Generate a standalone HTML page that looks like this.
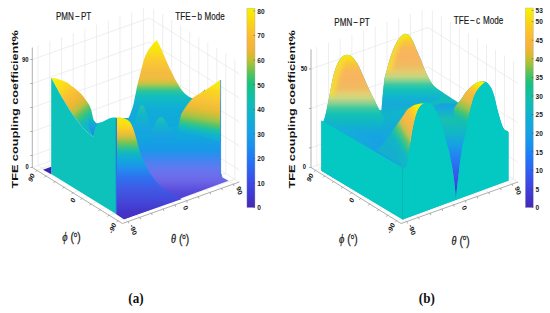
<!DOCTYPE html>
<html><head><meta charset="utf-8"><style>
html,body{margin:0;padding:0;background:#fff;width:550px;height:313px;overflow:hidden;font-family:"Liberation Sans",sans-serif;}
svg{display:block;}
</style></head><body><svg font-family="&quot;Liberation Sans&quot;, sans-serif" width="550" height="313" viewBox="0 0 550 313"><defs><linearGradient id="g1" gradientUnits="userSpaceOnUse" x1="0.0" y1="100.0" x2="0.0" y2="219.0"><stop offset="0.000" stop-color="#10b4cc"/><stop offset="0.151" stop-color="#10b0d4"/><stop offset="0.294" stop-color="#10a8dc"/><stop offset="0.420" stop-color="#1898e8"/><stop offset="0.487" stop-color="#3a88f0"/><stop offset="0.555" stop-color="#5a7cf0"/><stop offset="0.622" stop-color="#6c70ec"/><stop offset="0.689" stop-color="#6a64e6"/><stop offset="0.756" stop-color="#5a4edc"/><stop offset="0.840" stop-color="#4c3ed0"/><stop offset="1.000" stop-color="#4430c0"/></linearGradient><linearGradient id="g2" gradientUnits="userSpaceOnUse" x1="0.0" y1="40.0" x2="0.0" y2="128.0"><stop offset="0.000" stop-color="#f8f000"/><stop offset="0.114" stop-color="#f8e410"/><stop offset="0.205" stop-color="#fad028"/><stop offset="0.284" stop-color="#f8c438"/><stop offset="0.364" stop-color="#f4bc40"/><stop offset="0.432" stop-color="#f0bc40"/><stop offset="0.477" stop-color="#d8c040"/><stop offset="0.511" stop-color="#a8c650"/><stop offset="0.545" stop-color="#60c870"/><stop offset="0.580" stop-color="#30c498"/><stop offset="0.625" stop-color="#14c0b8"/><stop offset="0.682" stop-color="#10b8c8"/><stop offset="0.795" stop-color="#10acd8"/><stop offset="1.000" stop-color="#10a8dc"/></linearGradient><linearGradient id="g3" gradientUnits="userSpaceOnUse" x1="0.0" y1="104.0" x2="0.0" y2="134.0"><stop offset="0.000" stop-color="#30c6a0"/><stop offset="0.350" stop-color="#14b8c4"/><stop offset="1.000" stop-color="#18a0e6"/></linearGradient><linearGradient id="g4" gradientUnits="userSpaceOnUse" x1="0.0" y1="116.0" x2="0.0" y2="140.0"><stop offset="0.000" stop-color="#2cc4a8"/><stop offset="0.400" stop-color="#14b4cc"/><stop offset="1.000" stop-color="#1a9ae8"/></linearGradient><linearGradient id="g5" gradientUnits="userSpaceOnUse" x1="206.0" y1="84.0" x2="197.0" y2="138.0"><stop offset="0.000" stop-color="#f8e818"/><stop offset="0.120" stop-color="#fad420"/><stop offset="0.300" stop-color="#f8c438"/><stop offset="0.450" stop-color="#ecbc34"/><stop offset="0.550" stop-color="#c8c038"/><stop offset="0.640" stop-color="#98c44c"/><stop offset="0.720" stop-color="#58c468"/><stop offset="0.800" stop-color="#20c2a0"/><stop offset="0.900" stop-color="#10b4cc"/><stop offset="1.000" stop-color="#14a8dc"/></linearGradient><linearGradient id="g6" gradientUnits="userSpaceOnUse" x1="0.0" y1="117.0" x2="0.0" y2="219.0"><stop offset="0.000" stop-color="#f8e810"/><stop offset="0.059" stop-color="#fae010"/><stop offset="0.108" stop-color="#fcd020"/><stop offset="0.157" stop-color="#f0c038"/><stop offset="0.206" stop-color="#c0c040"/><stop offset="0.255" stop-color="#70c458"/><stop offset="0.304" stop-color="#30c290"/><stop offset="0.353" stop-color="#10b8c0"/><stop offset="0.422" stop-color="#10a8dc"/><stop offset="0.500" stop-color="#2090ec"/><stop offset="0.598" stop-color="#3070f0"/><stop offset="0.716" stop-color="#4058e4"/><stop offset="0.843" stop-color="#4444d8"/><stop offset="0.931" stop-color="#4434c8"/><stop offset="1.000" stop-color="#4430c0"/></linearGradient><linearGradient id="g7" gradientUnits="userSpaceOnUse" x1="56.0" y1="80.0" x2="90.0" y2="122.0"><stop offset="0.000" stop-color="#f8ec08"/><stop offset="0.220" stop-color="#fcd420"/><stop offset="0.400" stop-color="#f8be38"/><stop offset="0.560" stop-color="#eab834"/><stop offset="0.680" stop-color="#b8c040"/><stop offset="0.780" stop-color="#58c464"/><stop offset="0.880" stop-color="#20c2a0"/><stop offset="1.000" stop-color="#10b8c8"/></linearGradient><linearGradient id="g8" gradientUnits="userSpaceOnUse" x1="0.0" y1="118.0" x2="0.0" y2="136.0"><stop offset="0.000" stop-color="#10b8c0"/><stop offset="0.500" stop-color="#18a0e0"/><stop offset="1.000" stop-color="#2a80ee"/></linearGradient><linearGradient id="g9" gradientUnits="userSpaceOnUse" x1="0.0" y1="8.2" x2="0.0" y2="207.6"><stop offset="0.000" stop-color="#f8f200"/><stop offset="0.031" stop-color="#f9e608"/><stop offset="0.062" stop-color="#fad911"/><stop offset="0.094" stop-color="#fbcd1c"/><stop offset="0.125" stop-color="#fcc12b"/><stop offset="0.156" stop-color="#f9b934"/><stop offset="0.188" stop-color="#f5b53a"/><stop offset="0.219" stop-color="#e9b631"/><stop offset="0.250" stop-color="#cbbd2d"/><stop offset="0.281" stop-color="#a1c13b"/><stop offset="0.312" stop-color="#6ec24e"/><stop offset="0.344" stop-color="#40c266"/><stop offset="0.375" stop-color="#1cc27d"/><stop offset="0.406" stop-color="#13c190"/><stop offset="0.438" stop-color="#10c0a3"/><stop offset="0.469" stop-color="#10beb1"/><stop offset="0.500" stop-color="#10b9bf"/><stop offset="0.531" stop-color="#10b3cb"/><stop offset="0.562" stop-color="#10add6"/><stop offset="0.594" stop-color="#13a7df"/><stop offset="0.625" stop-color="#17a1e7"/><stop offset="0.656" stop-color="#1899eb"/><stop offset="0.688" stop-color="#1891ef"/><stop offset="0.719" stop-color="#1c85f4"/><stop offset="0.750" stop-color="#2079f8"/><stop offset="0.781" stop-color="#276df4"/><stop offset="0.812" stop-color="#2f61f0"/><stop offset="0.844" stop-color="#3655ec"/><stop offset="0.875" stop-color="#3c49e8"/><stop offset="0.906" stop-color="#3e40dc"/><stop offset="0.938" stop-color="#4038d0"/><stop offset="0.969" stop-color="#4230c4"/><stop offset="1.000" stop-color="#4428b8"/></linearGradient><linearGradient id="g10" gradientUnits="userSpaceOnUse" x1="0.0" y1="80.0" x2="0.0" y2="170.0"><stop offset="0.000" stop-color="#10bea8"/><stop offset="0.220" stop-color="#10bcbc"/><stop offset="0.380" stop-color="#10b4cc"/><stop offset="0.550" stop-color="#14aad8"/><stop offset="0.780" stop-color="#18a4e0"/><stop offset="1.000" stop-color="#10b4d0"/></linearGradient><linearGradient id="g11" gradientUnits="userSpaceOnUse" x1="0.0" y1="54.3" x2="0.0" y2="131.0"><stop offset="0.000" stop-color="#f8f000"/><stop offset="0.048" stop-color="#f8e010"/><stop offset="0.113" stop-color="#f8c838"/><stop offset="0.205" stop-color="#f8b858"/><stop offset="0.335" stop-color="#f8b460"/><stop offset="0.439" stop-color="#f0bc60"/><stop offset="0.505" stop-color="#e8cc70"/><stop offset="0.570" stop-color="#c8d880"/><stop offset="0.635" stop-color="#90d090"/><stop offset="0.700" stop-color="#40c8a0"/><stop offset="0.778" stop-color="#14c2b4"/><stop offset="0.883" stop-color="#10bcbc" stop-opacity="0.6"/><stop offset="1.000" stop-color="#10b8c4" stop-opacity="0"/></linearGradient><linearGradient id="g12" gradientUnits="userSpaceOnUse" x1="331.0" y1="0.0" x2="346.0" y2="0.0"><stop offset="0.000" stop-color="#f4e428"/><stop offset="0.500" stop-color="#f6dc30"/><stop offset="1.000" stop-color="#f8d040"/></linearGradient><clipPath id="cpL"><path d="M321.30,120.50 C321.30,120.50 322.47,122.78 323.20,121.70 C323.93,120.62 324.85,117.42 325.70,114.00 C326.55,110.58 327.45,105.47 328.30,101.20 C329.15,96.93 329.95,92.65 330.80,88.40 C331.65,84.15 332.47,79.40 333.40,75.70 C334.33,72.00 335.23,69.05 336.40,66.20 C337.57,63.35 339.13,60.37 340.40,58.60 C341.67,56.83 342.90,56.25 344.00,55.60 C345.10,54.95 345.97,54.70 347.00,54.70 C348.03,54.70 349.10,54.98 350.20,55.60 C351.30,56.22 352.22,56.77 353.60,58.40 C354.98,60.03 356.83,62.30 358.50,65.40 C360.17,68.50 361.90,73.17 363.60,77.00 C365.30,80.83 367.00,84.78 368.70,88.40 C370.40,92.02 372.10,95.28 373.80,98.70 C375.50,102.12 377.53,106.18 378.90,108.90 C380.27,111.62 380.98,112.98 382.00,115.00 C383.02,117.02 385.00,121.00 385.00,121.00 L380.00,128.00 L365.00,131.00 L345.00,131.00 L330.00,128.00 L321.30,120.50 Z"/></clipPath><filter id="bl2" x="-50%" y="-50%" width="200%" height="200%"><feGaussianBlur stdDeviation="2.2"/></filter><linearGradient id="g13" gradientUnits="userSpaceOnUse" x1="0.0" y1="33.6" x2="0.0" y2="114.0"><stop offset="0.000" stop-color="#f8f000"/><stop offset="0.042" stop-color="#f8e010"/><stop offset="0.104" stop-color="#f8c838"/><stop offset="0.179" stop-color="#f8b858"/><stop offset="0.303" stop-color="#f8b460"/><stop offset="0.403" stop-color="#f0bc60"/><stop offset="0.478" stop-color="#e4cc70"/><stop offset="0.540" stop-color="#c0d680"/><stop offset="0.590" stop-color="#80d090"/><stop offset="0.639" stop-color="#38c8a4"/><stop offset="0.701" stop-color="#14c2b8"/><stop offset="0.789" stop-color="#10b4d0"/><stop offset="0.888" stop-color="#18a4e0" stop-opacity="0.7"/><stop offset="1.000" stop-color="#1a9ae6" stop-opacity="0"/></linearGradient><linearGradient id="g14" gradientUnits="userSpaceOnUse" x1="388.0" y1="0.0" x2="403.0" y2="0.0"><stop offset="0.000" stop-color="#f4e428"/><stop offset="0.500" stop-color="#f6dc30"/><stop offset="1.000" stop-color="#f8d040"/></linearGradient><clipPath id="cpM"><path d="M381.50,110.00 C381.50,110.00 383.42,87.03 384.30,80.40 C385.18,73.77 385.92,73.63 386.80,70.20 C387.68,66.77 388.60,63.08 389.60,59.80 C390.60,56.52 391.65,53.38 392.80,50.50 C393.95,47.62 395.22,44.78 396.50,42.50 C397.78,40.22 399.07,38.25 400.50,36.80 C401.93,35.35 403.65,34.00 405.10,33.80 C406.55,33.60 407.95,34.48 409.20,35.60 C410.45,36.72 411.50,38.45 412.60,40.50 C413.70,42.55 414.53,44.97 415.80,47.90 C417.07,50.83 418.62,54.27 420.20,58.10 C421.78,61.93 423.58,67.05 425.30,70.90 C427.02,74.75 428.78,78.43 430.50,81.20 C432.22,83.97 433.48,85.58 435.60,87.50 C437.72,89.42 443.20,92.70 443.20,92.70 L438.00,100.00 L420.00,104.00 L400.00,110.00 L388.00,114.00 L381.50,110.00 Z"/></clipPath><linearGradient id="g15" gradientUnits="userSpaceOnUse" x1="321.0" y1="120.0" x2="402.0" y2="167.0"><stop offset="0.000" stop-color="#10b8c8"/><stop offset="0.400" stop-color="#14aadc"/><stop offset="0.800" stop-color="#1a9ce6"/><stop offset="1.000" stop-color="#1a9ae6"/></linearGradient><linearGradient id="g16" gradientUnits="userSpaceOnUse" x1="418.0" y1="108.0" x2="386.0" y2="128.0"><stop offset="0.000" stop-color="#f8f000"/><stop offset="0.150" stop-color="#fcd020"/><stop offset="0.300" stop-color="#f8bc40"/><stop offset="0.480" stop-color="#f0b848"/><stop offset="0.600" stop-color="#c8c050"/><stop offset="0.720" stop-color="#60c470"/><stop offset="0.850" stop-color="#20c2a0"/><stop offset="1.000" stop-color="#10bcbc" stop-opacity="0.6"/></linearGradient><linearGradient id="g17" gradientUnits="userSpaceOnUse" x1="0.0" y1="100.0" x2="0.0" y2="199.0"><stop offset="0.000" stop-color="#1a9ae6"/><stop offset="0.100" stop-color="#14acd8"/><stop offset="0.200" stop-color="#18c0b0"/><stop offset="0.320" stop-color="#10b8c4"/><stop offset="0.450" stop-color="#18a0e4"/><stop offset="0.580" stop-color="#2480f2"/><stop offset="0.720" stop-color="#3460ee"/><stop offset="0.860" stop-color="#4044dc"/><stop offset="1.000" stop-color="#4434c8"/></linearGradient><linearGradient id="g18" gradientUnits="userSpaceOnUse" x1="480.0" y1="84.0" x2="458.0" y2="126.0"><stop offset="0.000" stop-color="#f8f000"/><stop offset="0.120" stop-color="#fcd020"/><stop offset="0.280" stop-color="#f8b840"/><stop offset="0.450" stop-color="#e0bc40"/><stop offset="0.600" stop-color="#90c450"/><stop offset="0.720" stop-color="#40c478"/><stop offset="0.850" stop-color="#14c0a8" stop-opacity="0.8"/><stop offset="1.000" stop-color="#10b8c0" stop-opacity="0"/></linearGradient><linearGradient id="g19" gradientUnits="userSpaceOnUse" x1="0.0" y1="8.0" x2="0.0" y2="207.6"><stop offset="0.000" stop-color="#f8f200"/><stop offset="0.031" stop-color="#f9e608"/><stop offset="0.062" stop-color="#fad911"/><stop offset="0.094" stop-color="#fbcd1c"/><stop offset="0.125" stop-color="#fcc12b"/><stop offset="0.156" stop-color="#f9b934"/><stop offset="0.188" stop-color="#f5b53a"/><stop offset="0.219" stop-color="#e9b631"/><stop offset="0.250" stop-color="#cbbd2d"/><stop offset="0.281" stop-color="#a1c13b"/><stop offset="0.312" stop-color="#6ec24e"/><stop offset="0.344" stop-color="#40c266"/><stop offset="0.375" stop-color="#1cc27d"/><stop offset="0.406" stop-color="#13c190"/><stop offset="0.438" stop-color="#10c0a3"/><stop offset="0.469" stop-color="#10beb1"/><stop offset="0.500" stop-color="#10b9bf"/><stop offset="0.531" stop-color="#10b3cb"/><stop offset="0.562" stop-color="#10add6"/><stop offset="0.594" stop-color="#13a7df"/><stop offset="0.625" stop-color="#17a1e7"/><stop offset="0.656" stop-color="#1899eb"/><stop offset="0.688" stop-color="#1891ef"/><stop offset="0.719" stop-color="#1c85f4"/><stop offset="0.750" stop-color="#2079f8"/><stop offset="0.781" stop-color="#276df4"/><stop offset="0.812" stop-color="#2f61f0"/><stop offset="0.844" stop-color="#3655ec"/><stop offset="0.875" stop-color="#3c49e8"/><stop offset="0.906" stop-color="#3e40dc"/><stop offset="0.938" stop-color="#4038d0"/><stop offset="0.969" stop-color="#4230c4"/><stop offset="1.000" stop-color="#4428b8"/></linearGradient></defs><path d="M38.1,165.4 V45.4 M49.8,161.3 V41.3 M61.5,157.1 V37.1 M73.2,153.0 V33.0 M84.9,148.8 V28.8 M96.6,144.7 V24.7 M108.3,140.5 V20.5 M120.0,136.4 V16.4 M131.7,132.2 V12.2 M143.4,128.1 V8.1 M153.7,128.8 V8.8 M162.7,134.4 V14.4 M171.7,140.0 V20.0 M180.7,145.6 V25.6 M189.7,151.2 V31.2 M198.8,156.8 V36.8 M207.8,162.4 V42.4 M216.8,168.0 V48.0 M225.8,173.6 V53.6 M234.8,179.2 V59.2 M32.3,167.5 L149.2,126.0 L239.3,182.0 M32.3,155.5 L149.2,114.0 L239.3,170.0 M32.3,131.5 L149.2,90.0 L239.3,146.0 M32.3,107.5 L149.2,66.0 L239.3,122.0 M32.3,83.5 L149.2,42.0 L239.3,98.0 M32.3,59.5 L149.2,18.0 L239.3,74.0 M38.1,165.4 L128.2,221.4 M36.8,170.3 L153.7,128.8 M49.8,161.3 L139.9,217.3 M45.8,175.9 L162.7,134.4 M61.5,157.1 L151.6,213.1 M54.8,181.5 L171.7,140.0 M73.2,153.0 L163.3,209.0 M63.8,187.1 L180.7,145.6 M84.9,148.8 L175.0,204.8 M72.8,192.7 L189.7,151.2 M96.6,144.7 L186.7,200.7 M81.9,198.3 L198.8,156.8 M108.3,140.5 L198.4,196.5 M90.9,203.9 L207.8,162.4 M120.0,136.4 L210.1,192.4 M99.9,209.5 L216.8,168.0 M131.7,132.2 L221.8,188.2 M108.9,215.1 L225.8,173.6 M143.4,128.1 L233.5,184.1 M117.9,220.7 L234.8,179.2" stroke="#e2e2e2" stroke-width="0.6" fill="none"/><path d="M32.3,167.5 V47.5 M32.3,167.5 L122.4,223.5 L239.3,182.0 M32.3,167.5 h-2 M32.3,155.5 h-2 M32.3,131.5 h-2 M32.3,107.5 h-2 M32.3,83.5 h-2 M32.3,59.5 h-2 M36.8,170.3 l-1.3,1.6 M45.8,175.9 l-1.3,1.6 M54.8,181.5 l-1.3,1.6 M63.8,187.1 l-1.3,1.6 M72.8,192.7 l-1.3,1.6 M81.9,198.3 l-1.3,1.6 M90.9,203.9 l-1.3,1.6 M99.9,209.5 l-1.3,1.6 M108.9,215.1 l-1.3,1.6 M117.9,220.7 l-1.3,1.6 M128.2,221.4 l0.6,2.0 M139.9,217.3 l0.6,2.0 M151.6,213.1 l0.6,2.0 M163.3,209.0 l0.6,2.0 M175.0,204.8 l0.6,2.0 M186.7,200.7 l0.6,2.0 M198.4,196.5 l0.6,2.0 M210.1,192.4 l0.6,2.0 M221.8,188.2 l0.6,2.0 M233.5,184.1 l0.6,2.0" stroke="#8c8c8c" stroke-width="0.7" fill="none"/><path d="M116.0,118.0 L131.0,118.0 L150.0,110.0 L200.0,108.0 L220.5,100.0 L220.8,172.0 L222.5,177.5 L228.5,180.8 L124.0,219.2 L116.0,214.0 Z" fill="url(#g1)"/><path d="M127.20,121.00 C127.20,121.00 128.97,117.35 129.70,115.60 C130.43,113.85 130.97,112.40 131.60,110.50 C132.23,108.60 132.97,106.32 133.50,104.20 C134.03,102.08 134.37,99.93 134.80,97.80 C135.23,95.67 135.65,93.62 136.10,91.40 C136.55,89.18 136.80,87.48 137.50,84.50 C138.20,81.52 139.40,77.05 140.30,73.50 C141.20,69.95 142.02,66.25 142.90,63.20 C143.78,60.15 144.52,57.63 145.60,55.20 C146.68,52.77 148.10,50.57 149.40,48.60 C150.70,46.63 152.15,44.80 153.40,43.40 C154.65,42.00 156.90,40.20 156.90,40.20 C156.90,40.20 159.52,45.13 160.80,47.90 C162.08,50.67 163.32,53.82 164.60,56.80 C165.88,59.78 167.22,63.02 168.50,65.80 C169.78,68.58 171.03,70.95 172.30,73.50 C173.57,76.05 174.82,78.77 176.10,81.10 C177.38,83.43 178.72,85.58 180.00,87.50 C181.28,89.42 182.32,91.05 183.80,92.60 C185.28,94.15 187.42,95.85 188.90,96.80 C190.38,97.75 191.42,98.20 192.70,98.30 C193.98,98.40 195.10,98.35 196.60,97.40 C198.10,96.45 200.30,93.95 201.70,92.60 C203.10,91.25 205.00,89.30 205.00,89.30 L205.00,115.00 L190.00,125.00 L160.00,128.00 L140.00,128.00 L127.20,121.00 Z" fill="url(#g2)"/><path d="M132,134 C136,118 139,105 141.8,105 C145,105 148,118 153,134 Z" fill="url(#g3)" opacity="0.85"/><path d="M150,140 C154,126 157,117 161,117 C165,117 169,128 176,140 Z" fill="url(#g4)" opacity="0.85"/><path d="M181.20,114.20 C181.20,114.20 184.13,109.12 186.00,106.50 C187.87,103.88 190.40,100.50 192.40,98.50 C194.40,96.50 196.07,95.75 198.00,94.50 C199.93,93.25 202.00,92.25 204.00,91.00 C206.00,89.75 208.08,88.28 210.00,87.00 C211.92,85.72 213.75,84.55 215.50,83.30 C217.25,82.05 220.50,79.50 220.50,79.50 L220.60,142.00 L205.00,137.00 L190.00,134.00 L177.50,131.00 C177.50,131.00 178.68,124.80 179.30,122.00 C179.92,119.20 181.20,114.20 181.20,114.20 Z" fill="url(#g5)"/><path d="M220.6,80 V176" stroke="#2080f0" stroke-width="0.9" opacity="0.8"/><path d="M116.40,117.80 C116.40,117.80 117.42,117.27 118.50,117.30 C119.58,117.33 121.45,117.58 122.90,118.00 C124.35,118.42 125.97,119.05 127.20,119.80 C128.43,120.55 129.37,121.22 130.30,122.50 C131.23,123.78 132.05,125.68 132.80,127.50 C133.55,129.32 134.13,131.23 134.80,133.40 C135.47,135.57 136.13,138.07 136.80,140.50 C137.47,142.93 138.00,145.33 138.80,148.00 C139.60,150.67 140.37,153.47 141.60,156.50 C142.83,159.53 144.05,162.37 146.20,166.20 C148.35,170.03 151.45,175.62 154.50,179.50 C157.55,183.38 161.03,186.85 164.50,189.50 C167.97,192.15 172.38,193.82 175.30,195.40 C178.22,196.98 182.00,199.00 182.00,199.00 L124.00,219.20 L116.40,214.00 L116.40,117.80 Z" fill="url(#g6)"/><path d="M51.20,77.80 C51.20,77.80 55.03,78.32 57.00,78.80 C58.97,79.28 61.25,80.03 63.00,80.70 C64.75,81.37 66.07,81.93 67.50,82.80 C68.93,83.67 70.18,84.83 71.60,85.90 C73.02,86.97 74.57,88.02 76.00,89.20 C77.43,90.38 78.98,91.78 80.20,93.00 C81.42,94.22 82.33,95.30 83.30,96.50 C84.27,97.70 85.13,98.98 86.00,100.20 C86.87,101.42 87.78,102.60 88.50,103.80 C89.22,105.00 89.80,106.20 90.30,107.40 C90.80,108.60 91.15,109.73 91.50,111.00 C91.85,112.27 92.08,113.63 92.40,115.00 C92.72,116.37 93.00,118.05 93.40,119.20 C93.80,120.35 94.12,121.23 94.80,121.90 C95.48,122.57 96.33,123.22 97.50,123.20 C98.67,123.18 101.80,121.80 101.80,121.80 L93.20,136.60 C93.20,136.60 89.12,134.27 86.00,131.00 C82.88,127.73 78.33,122.33 74.50,117.00 C70.67,111.67 66.88,105.53 63.00,99.00 C59.12,92.47 51.20,77.80 51.20,77.80 Z" fill="url(#g7)"/><path d="M88.5,118 L94,120.5 L97,124.5 L93.1,136.5 L89,128 Z" fill="url(#g8)"/><path d="M51.20,77.80 C51.20,77.80 59.12,92.47 63.00,99.00 C66.88,105.53 70.67,111.67 74.50,117.00 C78.33,122.33 82.88,127.73 86.00,131.00 C89.12,134.27 93.20,136.60 93.20,136.60 C93.20,136.60 94.52,129.63 95.40,127.50 C96.28,125.37 97.43,124.68 98.50,123.80 C99.57,122.92 100.30,122.95 101.80,122.20 C103.30,121.45 105.83,120.03 107.50,119.30 C109.17,118.57 110.35,118.08 111.80,117.80 C113.25,117.52 116.20,117.60 116.20,117.60 L116.20,214.00 L51.20,174.00 L51.20,77.80 Z" fill="#0cc2ba"/><path d="M116.3,118 V214" stroke="#2e6ee6" stroke-width="1.1"/><path d="M43,169.7 L51.2,166.8 L51.2,174.3 Z" fill="#3c22b0"/><rect x="246.9" y="8.2" width="8.1" height="199.4" fill="url(#g9)" stroke="#b0b0b0" stroke-width="0.4"/><text transform="translate(257.3,210.4) scale(0.840,1)" font-family="&quot;Liberation Sans&quot;, sans-serif" font-size="7.80" font-weight="bold" font-style="normal" text-anchor="start" fill="#1a1a1a">0</text><text transform="translate(257.3,185.8) scale(0.840,1)" font-family="&quot;Liberation Sans&quot;, sans-serif" font-size="7.80" font-weight="bold" font-style="normal" text-anchor="start" fill="#1a1a1a">10</text><text transform="translate(257.3,161.2) scale(0.840,1)" font-family="&quot;Liberation Sans&quot;, sans-serif" font-size="7.80" font-weight="bold" font-style="normal" text-anchor="start" fill="#1a1a1a">20</text><text transform="translate(257.3,136.6) scale(0.840,1)" font-family="&quot;Liberation Sans&quot;, sans-serif" font-size="7.80" font-weight="bold" font-style="normal" text-anchor="start" fill="#1a1a1a">30</text><text transform="translate(257.3,112.1) scale(0.840,1)" font-family="&quot;Liberation Sans&quot;, sans-serif" font-size="7.80" font-weight="bold" font-style="normal" text-anchor="start" fill="#1a1a1a">40</text><text transform="translate(257.3,87.5) scale(0.840,1)" font-family="&quot;Liberation Sans&quot;, sans-serif" font-size="7.80" font-weight="bold" font-style="normal" text-anchor="start" fill="#1a1a1a">50</text><text transform="translate(257.3,62.9) scale(0.840,1)" font-family="&quot;Liberation Sans&quot;, sans-serif" font-size="7.80" font-weight="bold" font-style="normal" text-anchor="start" fill="#1a1a1a">60</text><text transform="translate(257.3,38.3) scale(0.840,1)" font-family="&quot;Liberation Sans&quot;, sans-serif" font-size="7.80" font-weight="bold" font-style="normal" text-anchor="start" fill="#1a1a1a">70</text><text transform="translate(257.3,13.7) scale(0.840,1)" font-family="&quot;Liberation Sans&quot;, sans-serif" font-size="7.80" font-weight="bold" font-style="normal" text-anchor="start" fill="#1a1a1a">80</text><path d="M255.0,207.6 h-1.5 M255.0,183.0 h-1.5 M255.0,158.4 h-1.5 M255.0,133.8 h-1.5 M255.0,109.3 h-1.5 M255.0,84.7 h-1.5 M255.0,60.1 h-1.5 M255.0,35.5 h-1.5 M255.0,10.9 h-1.5" stroke="#444" stroke-width="0.5"/><text transform="scale(0.720,1)" y="20.0" font-size="11.20" fill="#1a1a1a" stroke="#1a1a1a" stroke-width="0.2"><tspan x="77.64">PMN</tspan><tspan x="104.03">&#8722;</tspan><tspan x="112.50">PT</tspan></text><text transform="scale(0.720,1)" y="20.0" font-size="11.20" fill="#1a1a1a" stroke="#1a1a1a" stroke-width="0.2"><tspan x="243.47">TFE</tspan><tspan x="266.11">&#8722;</tspan><tspan x="274.44">b</tspan><tspan x="284.17">Mode</tspan></text><text transform="translate(18.3,188.6) scale(0.770,1) rotate(-90)" font-size="12.69" font-weight="bold" fill="#111">TFE coupling coefficient%</text><text transform="translate(28.6,62.0) scale(0.835,1)" font-family="&quot;Liberation Sans&quot;, sans-serif" font-size="7.00" font-weight="bold" font-style="normal" text-anchor="end" fill="#111">90</text><text transform="translate(27.0,169.0) scale(0.800,1)" font-family="&quot;Liberation Sans&quot;, sans-serif" font-size="7.20" font-weight="bold" font-style="normal" text-anchor="middle" fill="#111">0</text><text transform="translate(31.3,177.4) scale(0.835,1) rotate(-62.0)" font-size="7.60" font-weight="bold" text-anchor="middle" dy="0.36em" fill="#111">90</text><text transform="translate(72.9,200.1) scale(0.835,1) rotate(-62.0)" font-size="7.60" font-weight="bold" text-anchor="middle" dy="0.36em" fill="#111">0</text><text transform="translate(112.3,228.1) scale(0.835,1) rotate(-62.0)" font-size="7.60" font-weight="bold" text-anchor="middle" dy="0.36em" fill="#111">-90</text><text transform="translate(133.6,229.7) scale(0.835,1) rotate(70.0)" font-size="7.60" font-weight="bold" text-anchor="middle" dy="0.36em" fill="#111">-90</text><text transform="translate(185.8,207.7) scale(0.835,1) rotate(70.0)" font-size="7.60" font-weight="bold" text-anchor="middle" dy="0.36em" fill="#111">0</text><text transform="translate(239.5,190.5) scale(0.835,1) rotate(70.0)" font-size="7.60" font-weight="bold" text-anchor="middle" dy="0.36em" fill="#111">90</text><text transform="translate(62.2,241.4) scale(0.835,1)" font-size="12.3" fill="#1a1a1a" stroke="#1a1a1a" stroke-width="0.25"><tspan font-family="&quot;Liberation Serif&quot;, serif" font-style="italic">&#981;</tspan> (<tspan font-size="7.5" dy="-4.5">o</tspan><tspan dy="4.5">)</tspan></text><text transform="translate(171.0,243.4) scale(0.835,1)" font-size="12.3" fill="#1a1a1a" stroke="#1a1a1a" stroke-width="0.25"><tspan font-family="&quot;Liberation Serif&quot;, serif" font-style="italic">&#952;</tspan> (<tspan font-size="7.5" dy="-4.5">o</tspan><tspan dy="4.5">)</tspan></text><text transform="translate(136,303.4) scale(0.84,1)" font-family="&quot;Liberation Serif&quot;, serif" font-weight="bold" font-size="15.6" text-anchor="middle" fill="#111">(a)</text><path d="M316.8,165.4 V47.2 M328.5,161.3 V43.1 M340.2,157.1 V38.9 M351.9,153.0 V34.8 M363.6,148.8 V30.6 M375.3,144.7 V26.5 M387.0,140.5 V22.3 M398.7,136.4 V18.2 M410.4,132.2 V14.0 M422.1,128.1 V9.9 M432.4,128.8 V10.6 M441.4,134.4 V16.2 M450.4,140.0 V21.8 M459.4,145.6 V27.4 M468.4,151.2 V33.0 M477.5,156.8 V38.6 M486.5,162.4 V44.2 M495.5,168.0 V49.8 M504.5,173.6 V55.4 M513.5,179.2 V61.0 M311.0,167.5 L427.9,126.0 L518.0,182.0 M311.0,147.8 L427.9,106.3 L518.0,162.3 M311.0,108.4 L427.9,66.9 L518.0,122.9 M311.0,69.0 L427.9,27.5 L518.0,83.5 M316.8,165.4 L406.9,221.4 M315.5,170.3 L432.4,128.8 M328.5,161.3 L418.6,217.3 M324.5,175.9 L441.4,134.4 M340.2,157.1 L430.3,213.1 M333.5,181.5 L450.4,140.0 M351.9,153.0 L442.0,209.0 M342.5,187.1 L459.4,145.6 M363.6,148.8 L453.7,204.8 M351.5,192.7 L468.4,151.2 M375.3,144.7 L465.4,200.7 M360.6,198.3 L477.5,156.8 M387.0,140.5 L477.1,196.5 M369.6,203.9 L486.5,162.4 M398.7,136.4 L488.8,192.4 M378.6,209.5 L495.5,168.0 M410.4,132.2 L500.5,188.2 M387.6,215.1 L504.5,173.6 M422.1,128.1 L512.2,184.1 M396.6,220.7 L513.5,179.2" stroke="#e2e2e2" stroke-width="0.6" fill="none"/><path d="M311.0,167.5 V49.3 M311.0,167.5 L401.1,223.5 L518.0,182.0 M311.0,167.5 h-2 M311.0,147.8 h-2 M311.0,108.4 h-2 M311.0,69.0 h-2 M315.5,170.3 l-1.3,1.6 M324.5,175.9 l-1.3,1.6 M333.5,181.5 l-1.3,1.6 M342.5,187.1 l-1.3,1.6 M351.5,192.7 l-1.3,1.6 M360.6,198.3 l-1.3,1.6 M369.6,203.9 l-1.3,1.6 M378.6,209.5 l-1.3,1.6 M387.6,215.1 l-1.3,1.6 M396.6,220.7 l-1.3,1.6 M406.9,221.4 l0.6,2.0 M418.6,217.3 l0.6,2.0 M430.3,213.1 l0.6,2.0 M442.0,209.0 l0.6,2.0 M453.7,204.8 l0.6,2.0 M465.4,200.7 l0.6,2.0 M477.1,196.5 l0.6,2.0 M488.8,192.4 l0.6,2.0 M500.5,188.2 l0.6,2.0 M512.2,184.1 l0.6,2.0" stroke="#8c8c8c" stroke-width="0.7" fill="none"/><path d="M321.30,120.50 C321.30,120.50 322.47,122.78 323.20,121.70 C323.93,120.62 324.85,117.42 325.70,114.00 C326.55,110.58 327.45,105.47 328.30,101.20 C329.15,96.93 329.95,92.65 330.80,88.40 C331.65,84.15 332.47,79.40 333.40,75.70 C334.33,72.00 335.23,69.05 336.40,66.20 C337.57,63.35 339.13,60.37 340.40,58.60 C341.67,56.83 342.90,56.25 344.00,55.60 C345.10,54.95 345.97,54.70 347.00,54.70 C348.03,54.70 349.10,54.98 350.20,55.60 C351.30,56.22 352.22,56.77 353.60,58.40 C354.98,60.03 356.83,62.30 358.50,65.40 C360.17,68.50 361.90,73.17 363.60,77.00 C365.30,80.83 367.00,84.78 368.70,88.40 C370.40,92.02 372.10,95.28 373.80,98.70 C375.50,102.12 377.62,107.02 378.90,108.90 C380.18,110.78 381.50,110.00 381.50,110.00 C381.50,110.00 383.42,87.03 384.30,80.40 C385.18,73.77 385.92,73.63 386.80,70.20 C387.68,66.77 388.60,63.08 389.60,59.80 C390.60,56.52 391.65,53.38 392.80,50.50 C393.95,47.62 395.22,44.78 396.50,42.50 C397.78,40.22 399.07,38.25 400.50,36.80 C401.93,35.35 403.65,34.00 405.10,33.80 C406.55,33.60 407.95,34.48 409.20,35.60 C410.45,36.72 411.50,38.45 412.60,40.50 C413.70,42.55 414.53,44.97 415.80,47.90 C417.07,50.83 418.62,54.27 420.20,58.10 C421.78,61.93 423.58,67.05 425.30,70.90 C427.02,74.75 428.78,78.43 430.50,81.20 C432.22,83.97 433.48,85.58 435.60,87.50 C437.72,89.42 440.65,90.98 443.20,92.70 C445.75,94.42 448.33,96.10 450.90,97.80 C453.47,99.50 457.50,101.95 458.60,102.90 C459.70,103.85 457.50,103.50 457.50,103.50 C457.50,103.50 458.62,102.63 459.50,101.50 C460.38,100.37 461.72,98.28 462.80,96.70 C463.88,95.12 464.72,93.58 466.00,92.00 C467.28,90.42 469.08,88.53 470.50,87.20 C471.92,85.87 473.17,84.87 474.50,84.00 C475.83,83.13 477.22,82.45 478.50,82.00 C479.78,81.55 481.03,81.33 482.20,81.30 C483.37,81.27 484.48,81.35 485.50,81.80 C486.52,82.25 487.32,82.88 488.30,84.00 C489.28,85.12 490.43,86.53 491.40,88.50 C492.37,90.47 493.23,92.85 494.10,95.80 C494.97,98.75 495.73,102.75 496.60,106.20 C497.47,109.65 498.33,113.22 499.30,116.50 C500.27,119.78 501.47,123.65 502.40,125.90 C503.33,128.15 504.03,129.13 504.90,130.00 C505.77,130.87 507.60,131.10 507.60,131.10 L508.50,132.50 L508.50,180.50 L403.00,219.60 L321.30,170.80 L321.30,120.50 Z" fill="url(#g10)"/><path d="M321.30,120.50 C321.30,120.50 322.47,122.78 323.20,121.70 C323.93,120.62 324.85,117.42 325.70,114.00 C326.55,110.58 327.45,105.47 328.30,101.20 C329.15,96.93 329.95,92.65 330.80,88.40 C331.65,84.15 332.47,79.40 333.40,75.70 C334.33,72.00 335.23,69.05 336.40,66.20 C337.57,63.35 339.13,60.37 340.40,58.60 C341.67,56.83 342.90,56.25 344.00,55.60 C345.10,54.95 345.97,54.70 347.00,54.70 C348.03,54.70 349.10,54.98 350.20,55.60 C351.30,56.22 352.22,56.77 353.60,58.40 C354.98,60.03 356.83,62.30 358.50,65.40 C360.17,68.50 361.90,73.17 363.60,77.00 C365.30,80.83 367.00,84.78 368.70,88.40 C370.40,92.02 372.10,95.28 373.80,98.70 C375.50,102.12 377.53,106.18 378.90,108.90 C380.27,111.62 380.98,112.98 382.00,115.00 C383.02,117.02 385.00,121.00 385.00,121.00 L380.00,128.00 L365.00,131.00 L345.00,131.00 L330.00,128.00 L321.30,120.50 Z" fill="url(#g11)"/><g clip-path="url(#cpL)"><path d="M349,50 C343,52 337,58 333,66 C329,75 326,85 324,95 L334,96 C337,84 340,74 343,66 C345,60 347,56 350,53 Z" fill="#f6e030" opacity="0.8" filter="url(#bl2)"/></g><path d="M381.50,110.00 C381.50,110.00 383.42,87.03 384.30,80.40 C385.18,73.77 385.92,73.63 386.80,70.20 C387.68,66.77 388.60,63.08 389.60,59.80 C390.60,56.52 391.65,53.38 392.80,50.50 C393.95,47.62 395.22,44.78 396.50,42.50 C397.78,40.22 399.07,38.25 400.50,36.80 C401.93,35.35 403.65,34.00 405.10,33.80 C406.55,33.60 407.95,34.48 409.20,35.60 C410.45,36.72 411.50,38.45 412.60,40.50 C413.70,42.55 414.53,44.97 415.80,47.90 C417.07,50.83 418.62,54.27 420.20,58.10 C421.78,61.93 423.58,67.05 425.30,70.90 C427.02,74.75 428.78,78.43 430.50,81.20 C432.22,83.97 433.48,85.58 435.60,87.50 C437.72,89.42 443.20,92.70 443.20,92.70 L438.00,100.00 L420.00,104.00 L400.00,110.00 L388.00,114.00 L381.50,110.00 Z" fill="url(#g13)"/><g clip-path="url(#cpM)"><path d="M407,30 C401,32 396,37 393,44 C390,51 387,60 384,70 L392,72 C394,62 397,52 400,45 C402,40 404,36 408,33 Z" fill="#f6e030" opacity="0.8" filter="url(#bl2)"/></g><path d="M321.3,120.5 L402.5,167.5 L396,150 L380,135 L350,128 L330,124 Z" fill="url(#g15)"/><path d="M321.3,120.5 L402.5,167.5 L402.5,219.6 L321.3,170.8 Z" fill="#04c9c3"/><path d="M427.20,102.70 C427.20,102.70 419.20,103.45 416.00,104.50 C412.80,105.55 410.17,107.08 408.00,109.00 C405.83,110.92 404.67,113.67 403.00,116.00 C401.33,118.33 399.67,120.67 398.00,123.00 C396.33,125.33 394.75,127.50 393.00,130.00 C391.25,132.50 389.33,135.50 387.50,138.00 C385.67,140.50 383.92,143.00 382.00,145.00 C380.08,147.00 376.00,150.00 376.00,150.00 L392.00,160.00 L402.50,167.50 C402.50,167.50 405.15,168.25 406.00,167.00 C406.85,165.75 407.03,162.83 407.60,160.00 C408.17,157.17 408.83,153.25 409.40,150.00 C409.97,146.75 410.48,143.67 411.00,140.50 C411.52,137.33 411.92,134.17 412.50,131.00 C413.08,127.83 413.78,124.50 414.50,121.50 C415.22,118.50 415.97,115.37 416.80,113.00 C417.63,110.63 418.47,108.83 419.50,107.30 C420.53,105.77 421.72,104.57 423.00,103.80 C424.28,103.03 427.20,102.70 427.20,102.70 Z" fill="url(#g16)"/><path d="M434.00,106.00 L440.00,103.50 L452.00,103.50 L457.50,103.50 L485.00,82.40 C485.00,82.40 481.90,84.82 480.50,86.30 C479.10,87.78 477.72,89.52 476.60,91.30 C475.48,93.08 474.63,94.80 473.80,97.00 C472.97,99.20 472.28,101.97 471.60,104.50 C470.92,107.03 470.33,109.28 469.70,112.20 C469.07,115.12 468.42,118.70 467.80,122.00 C467.18,125.30 466.67,129.00 466.00,132.00 C465.33,135.00 464.57,136.60 463.80,140.00 C463.03,143.40 462.08,148.25 461.40,152.40 C460.72,156.55 460.22,160.75 459.70,164.90 C459.18,169.05 458.78,173.15 458.30,177.30 C457.82,181.45 457.20,186.17 456.80,189.80 C456.40,193.43 455.90,199.10 455.90,199.10 C455.90,199.10 455.47,193.43 455.10,189.80 C454.73,186.17 454.25,181.45 453.70,177.30 C453.15,173.15 452.53,169.05 451.80,164.90 C451.07,160.75 450.02,155.55 449.30,152.40 C448.58,149.25 448.08,148.07 447.50,146.00 C446.92,143.93 446.38,142.37 445.80,140.00 C445.22,137.63 444.70,134.50 444.00,131.80 C443.30,129.10 442.53,126.47 441.60,123.80 C440.67,121.13 439.47,118.20 438.40,115.80 C437.33,113.40 435.93,111.03 435.20,109.40 C434.47,107.77 434.00,106.00 434.00,106.00 Z" fill="url(#g17)"/><path d="M457.50,103.50 C457.50,103.50 458.62,102.63 459.50,101.50 C460.38,100.37 461.72,98.28 462.80,96.70 C463.88,95.12 464.72,93.58 466.00,92.00 C467.28,90.42 469.08,88.53 470.50,87.20 C471.92,85.87 473.17,84.87 474.50,84.00 C475.83,83.13 477.22,82.45 478.50,82.00 C479.78,81.55 481.12,81.23 482.20,81.30 C483.28,81.37 485.00,82.40 485.00,82.40 C485.00,82.40 481.90,84.82 480.50,86.30 C479.10,87.78 477.72,89.52 476.60,91.30 C475.48,93.08 474.63,94.80 473.80,97.00 C472.97,99.20 472.28,101.97 471.60,104.50 C470.92,107.03 470.33,109.28 469.70,112.20 C469.07,115.12 468.42,118.70 467.80,122.00 C467.18,125.30 466.00,132.00 466.00,132.00 L460.00,128.00 L454.00,118.00 L454.00,108.00 L457.50,103.50 Z" fill="url(#g18)"/><path d="M402.50,219.60 L402.50,169.50 C402.50,169.50 405.15,168.58 406.00,167.00 C406.85,165.42 407.03,162.83 407.60,160.00 C408.17,157.17 408.83,153.25 409.40,150.00 C409.97,146.75 410.48,143.67 411.00,140.50 C411.52,137.33 411.92,134.17 412.50,131.00 C413.08,127.83 413.78,124.50 414.50,121.50 C415.22,118.50 415.97,115.37 416.80,113.00 C417.63,110.63 418.47,108.83 419.50,107.30 C420.53,105.77 421.85,104.63 423.00,103.80 C424.15,102.97 425.03,102.17 426.40,102.30 C427.77,102.43 429.73,103.42 431.20,104.60 C432.67,105.78 434.00,107.53 435.20,109.40 C436.40,111.27 437.33,113.40 438.40,115.80 C439.47,118.20 440.67,121.13 441.60,123.80 C442.53,126.47 443.30,129.10 444.00,131.80 C444.70,134.50 445.22,137.63 445.80,140.00 C446.38,142.37 446.92,143.93 447.50,146.00 C448.08,148.07 448.58,149.25 449.30,152.40 C450.02,155.55 451.07,160.75 451.80,164.90 C452.53,169.05 453.15,173.15 453.70,177.30 C454.25,181.45 454.73,186.17 455.10,189.80 C455.47,193.43 455.90,199.10 455.90,199.10 C455.90,199.10 456.40,193.43 456.80,189.80 C457.20,186.17 457.82,181.45 458.30,177.30 C458.78,173.15 459.18,169.05 459.70,164.90 C460.22,160.75 460.72,156.55 461.40,152.40 C462.08,148.25 463.03,143.40 463.80,140.00 C464.57,136.60 465.33,135.00 466.00,132.00 C466.67,129.00 467.18,125.30 467.80,122.00 C468.42,118.70 469.07,115.12 469.70,112.20 C470.33,109.28 470.92,107.03 471.60,104.50 C472.28,101.97 472.97,99.20 473.80,97.00 C474.63,94.80 475.48,93.08 476.60,91.30 C477.72,89.52 479.10,87.78 480.50,86.30 C481.90,84.82 483.70,82.78 485.00,82.40 C486.30,82.02 487.23,82.98 488.30,84.00 C489.37,85.02 490.43,86.53 491.40,88.50 C492.37,90.47 493.23,92.85 494.10,95.80 C494.97,98.75 495.73,102.75 496.60,106.20 C497.47,109.65 498.33,113.22 499.30,116.50 C500.27,119.78 501.47,123.65 502.40,125.90 C503.33,128.15 504.03,129.13 504.90,130.00 C505.77,130.87 507.60,131.10 507.60,131.10 L508.50,132.50 L508.50,180.50 L402.50,219.60 Z" fill="#04c9c3"/><path d="M402.5,167.5 V219.6" stroke="#10b2b0" stroke-width="0.8"/><rect x="525.3" y="8.0" width="8.0" height="199.6" fill="url(#g19)" stroke="#b0b0b0" stroke-width="0.4"/><text transform="translate(535.6,210.4) scale(0.840,1)" font-family="&quot;Liberation Sans&quot;, sans-serif" font-size="7.80" font-weight="bold" font-style="normal" text-anchor="start" fill="#1a1a1a">0</text><text transform="translate(535.6,191.8) scale(0.840,1)" font-family="&quot;Liberation Sans&quot;, sans-serif" font-size="7.80" font-weight="bold" font-style="normal" text-anchor="start" fill="#1a1a1a">5</text><text transform="translate(535.6,173.2) scale(0.840,1)" font-family="&quot;Liberation Sans&quot;, sans-serif" font-size="7.80" font-weight="bold" font-style="normal" text-anchor="start" fill="#1a1a1a">10</text><text transform="translate(535.6,154.6) scale(0.840,1)" font-family="&quot;Liberation Sans&quot;, sans-serif" font-size="7.80" font-weight="bold" font-style="normal" text-anchor="start" fill="#1a1a1a">15</text><text transform="translate(535.6,136.0) scale(0.840,1)" font-family="&quot;Liberation Sans&quot;, sans-serif" font-size="7.80" font-weight="bold" font-style="normal" text-anchor="start" fill="#1a1a1a">20</text><text transform="translate(535.6,117.4) scale(0.840,1)" font-family="&quot;Liberation Sans&quot;, sans-serif" font-size="7.80" font-weight="bold" font-style="normal" text-anchor="start" fill="#1a1a1a">25</text><text transform="translate(535.6,98.8) scale(0.840,1)" font-family="&quot;Liberation Sans&quot;, sans-serif" font-size="7.80" font-weight="bold" font-style="normal" text-anchor="start" fill="#1a1a1a">30</text><text transform="translate(535.6,80.2) scale(0.840,1)" font-family="&quot;Liberation Sans&quot;, sans-serif" font-size="7.80" font-weight="bold" font-style="normal" text-anchor="start" fill="#1a1a1a">35</text><text transform="translate(535.6,61.6) scale(0.840,1)" font-family="&quot;Liberation Sans&quot;, sans-serif" font-size="7.80" font-weight="bold" font-style="normal" text-anchor="start" fill="#1a1a1a">40</text><text transform="translate(535.6,43.0) scale(0.840,1)" font-family="&quot;Liberation Sans&quot;, sans-serif" font-size="7.80" font-weight="bold" font-style="normal" text-anchor="start" fill="#1a1a1a">45</text><text transform="translate(535.6,24.4) scale(0.840,1)" font-family="&quot;Liberation Sans&quot;, sans-serif" font-size="7.80" font-weight="bold" font-style="normal" text-anchor="start" fill="#1a1a1a">50</text><text transform="translate(535.6,13.3) scale(0.840,1)" font-family="&quot;Liberation Sans&quot;, sans-serif" font-size="7.80" font-weight="bold" font-style="normal" text-anchor="start" fill="#1a1a1a">53</text><path d="M533.3,207.6 h-1.5 M533.3,189.0 h-1.5 M533.3,170.4 h-1.5 M533.3,151.8 h-1.5 M533.3,133.2 h-1.5 M533.3,114.6 h-1.5 M533.3,96.0 h-1.5 M533.3,77.4 h-1.5 M533.3,58.8 h-1.5 M533.3,40.2 h-1.5 M533.3,21.6 h-1.5 M533.3,10.5 h-1.5" stroke="#444" stroke-width="0.5"/><text transform="scale(0.720,1)" y="26.0" font-size="11.20" fill="#1a1a1a" stroke="#1a1a1a" stroke-width="0.2"><tspan x="464.31">PMN</tspan><tspan x="490.69">&#8722;</tspan><tspan x="499.17">PT</tspan></text><text transform="scale(0.720,1)" y="24.0" font-size="11.20" fill="#1a1a1a" stroke="#1a1a1a" stroke-width="0.2"><tspan x="630.28">TFE</tspan><tspan x="652.92">&#8722;</tspan><tspan x="661.25">c</tspan><tspan x="670.97">Mode</tspan></text><text transform="translate(294.5,188.6) scale(0.770,1) rotate(-90)" font-size="12.69" font-weight="bold" fill="#111">TFE coupling coefficient%</text><text transform="translate(307.3,70.5) scale(0.835,1)" font-family="&quot;Liberation Sans&quot;, sans-serif" font-size="7.00" font-weight="bold" font-style="normal" text-anchor="end" fill="#111">50</text><text transform="translate(304.3,169.0) scale(0.800,1)" font-family="&quot;Liberation Sans&quot;, sans-serif" font-size="7.20" font-weight="bold" font-style="normal" text-anchor="middle" fill="#111">0</text><text transform="translate(310.0,177.4) scale(0.835,1) rotate(-62.0)" font-size="7.60" font-weight="bold" text-anchor="middle" dy="0.36em" fill="#111">90</text><text transform="translate(351.6,200.1) scale(0.835,1) rotate(-62.0)" font-size="7.60" font-weight="bold" text-anchor="middle" dy="0.36em" fill="#111">0</text><text transform="translate(391.0,228.1) scale(0.835,1) rotate(-62.0)" font-size="7.60" font-weight="bold" text-anchor="middle" dy="0.36em" fill="#111">-90</text><text transform="translate(412.3,229.7) scale(0.835,1) rotate(70.0)" font-size="7.60" font-weight="bold" text-anchor="middle" dy="0.36em" fill="#111">-90</text><text transform="translate(464.5,207.7) scale(0.835,1) rotate(70.0)" font-size="7.60" font-weight="bold" text-anchor="middle" dy="0.36em" fill="#111">0</text><text transform="translate(518.2,190.5) scale(0.835,1) rotate(70.0)" font-size="7.60" font-weight="bold" text-anchor="middle" dy="0.36em" fill="#111">90</text><text transform="translate(339.1,243.0) scale(0.835,1)" font-size="12.3" fill="#1a1a1a" stroke="#1a1a1a" stroke-width="0.25"><tspan font-family="&quot;Liberation Serif&quot;, serif" font-style="italic">&#981;</tspan> (<tspan font-size="7.5" dy="-4.5">o</tspan><tspan dy="4.5">)</tspan></text><text transform="translate(451.5,244.9) scale(0.835,1)" font-size="12.3" fill="#1a1a1a" stroke="#1a1a1a" stroke-width="0.25"><tspan font-family="&quot;Liberation Serif&quot;, serif" font-style="italic">&#952;</tspan> (<tspan font-size="7.5" dy="-4.5">o</tspan><tspan dy="4.5">)</tspan></text><text transform="translate(426.8,303.4) scale(0.84,1)" font-family="&quot;Liberation Serif&quot;, serif" font-weight="bold" font-size="15.6" text-anchor="middle" fill="#111">(b)</text></svg></body></html>
